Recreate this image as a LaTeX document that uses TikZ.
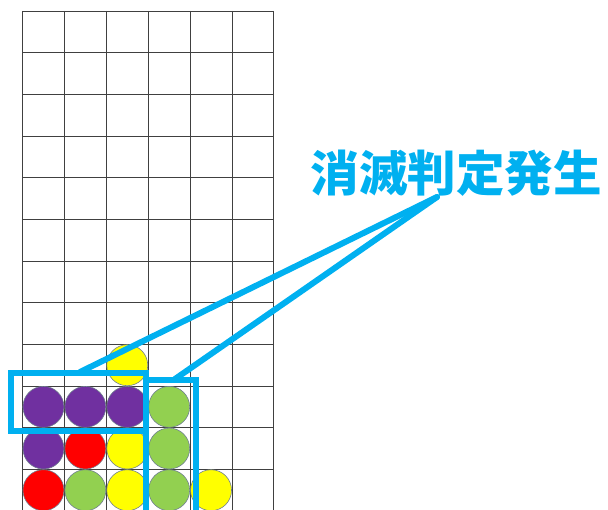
\documentclass[tikz,border=0pt]{standalone}
\usepackage{fontspec}
\newfontfamily\cjk{Noto Sans CJK JP}
\definecolor{hlblue}{HTML}{00B0F0}
\definecolor{bpurple}{HTML}{7030A0}
\definecolor{bred}{HTML}{FF0000}
\definecolor{byellow}{HTML}{FFFF00}
\definecolor{bgreen}{HTML}{92D050}
\definecolor{bedge}{HTML}{6F7F8F}
\begin{document}
\begin{tikzpicture}[x=1pt,y=-1pt,
  gridline/.style={draw=black!75,line width=0.9pt},
  ball/.style={circle,draw=bedge,line width=0.6pt,minimum size=41pt,inner sep=0pt},
  hlbox/.style={draw=hlblue,line width=6pt},
  hlline/.style={draw=hlblue,line width=6pt,line cap=round}]
\useasboundingbox (0,0) rectangle (608,510);
\begin{scope}
\clip (0,0) rectangle (608,510);
% grid
\foreach \i in {0,...,6} {
  \draw[gridline] ({22.5+41.9*\i},11) -- ({22.5+41.9*\i},515);
}
\foreach \j in {0,...,12} {
  \draw[gridline] (22.5,{11+41.67*\j}) -- (273.9,{11+41.67*\j});
}
% balls: col, row, colour
\foreach \c/\r/\col/\nm in {3/9/byellow/b1,
  1/10/bpurple/b2, 2/10/bpurple/b3, 3/10/bpurple/b4, 4/10/bgreen/b5,
  1/11/bpurple/b6, 2/11/bred/b7, 3/11/byellow/b8, 4/11/bgreen/b9,
  1/12/bred/b10, 2/12/bgreen/b11, 3/12/byellow/b12, 4/12/bgreen/b13, 5/12/byellow/b14} {
  \node[ball,fill=\col] (\nm) at ({22.5+41.9*(\c-0.5)},{11+41.67*(\r-0.5)}) {};
}
% highlight boxes
\draw[hlbox] (10.5,373) rectangle (145.5,431);
\draw[hlbox] (146.3,520) -- (146.3,380.3) -- (196.3,380.3) -- (196.3,520);
\end{scope}
% label
\node[anchor=base,inner sep=0pt,text=hlblue,font=\cjk\bfseries\fontsize{48.5}{48.5}\selectfont] (lbl) at (456,192) {消滅判定発生};
\coordinate (tip) at (437,197);
\coordinate (h) at (80,372);
\coordinate (v) at (175,379);
\draw[hlline] (tip) -- (h);
\draw[hlline] (tip) -- (v);
\end{tikzpicture}
\end{document}
